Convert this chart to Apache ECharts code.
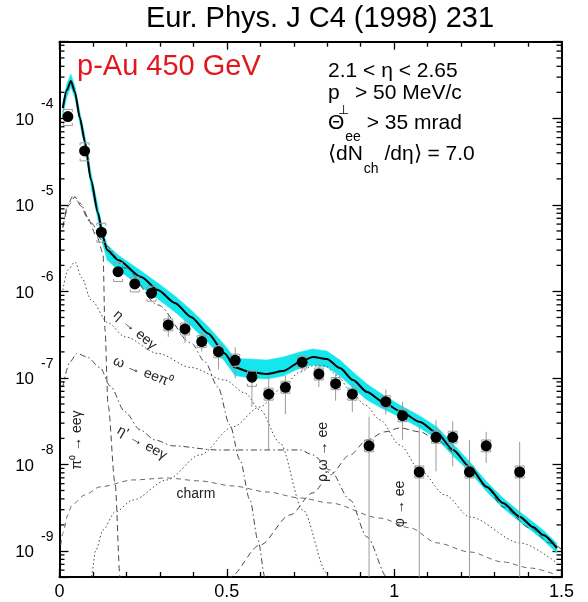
<!DOCTYPE html>
<html>
<head>
<meta charset="utf-8">
<title>p-Au 450 GeV dielectron mass spectrum</title>
<script src="https://cdn.jsdelivr.net/npm/echarts@6/dist/echarts.min.js"></script>
<style>
  html, body { margin: 0; padding: 0; background: #fff; }
  #chart { width: 588px; height: 602px; }
</style>
</head>
<body>
<div id="chart"></div>
<script>
// ---- Total expected yield (solid line) and its systematic band ----
const totalX = [0.010,0.022,0.034,0.046,0.061,0.076,0.094,0.115,0.130,0.142,0.175,0.244,0.294,0.345,0.393,0.444,0.494,0.524,0.569,0.620,0.668,0.719,0.757,0.799,0.838,0.877,0.919,0.967,1.017,1.077,1.128,1.176,1.226,1.277,1.325,1.376,1.415,1.445,1.486];
const totalY = [1.32e-4,2.13e-4,2.71e-4,2.02e-4,1.01e-4,5.35e-5,1.95e-5,8.08e-6,4.27e-6,3.02e-6,2.31e-6,1.47e-6,1.04e-6,7.36e-7,5.07e-7,3.27e-7,1.92e-7,1.32e-7,1.17e-7,1.11e-7,1.20e-7,1.53e-7,1.75e-7,1.66e-7,1.30e-7,9.47e-8,6.88e-8,5.28e-8,4.15e-8,3.10e-8,2.31e-8,1.47e-8,9.35e-9,5.50e-9,3.59e-9,2.47e-9,1.89e-9,1.53e-9,1.08e-9];
const bandHi = [1.55e-4,2.50e-4,3.27e-4,2.37e-4,1.18e-4,6.28e-5,2.35e-5,9.74e-6,5.01e-6,3.45e-6,2.64e-6,1.72e-6,1.25e-6,8.87e-7,6.11e-7,3.94e-7,2.38e-7,1.68e-7,1.65e-7,1.61e-7,1.74e-7,2.00e-7,2.16e-7,2.05e-7,1.61e-7,1.17e-7,8.51e-8,6.36e-8,4.87e-8,3.64e-8,2.71e-8,1.72e-8,1.07e-8,6.28e-9,4.10e-9,2.82e-9,2.16e-9,1.75e-9,1.23e-9];
const bandLo = [1.07e-4,1.77e-4,2.31e-4,1.72e-4,8.6e-5,4.56e-5,1.62e-5,6.71e-6,3.45e-6,2.31e-6,1.77e-6,1.13e-6,8.18e-7,5.79e-7,3.99e-7,2.57e-7,1.55e-7,1.07e-7,9.97e-8,9.72e-8,1.05e-7,1.30e-7,1.41e-7,1.34e-7,1.05e-7,7.66e-8,5.56e-8,4.38e-8,3.54e-8,2.64e-8,1.97e-8,1.25e-8,8.19e-9,4.82e-9,3.14e-9,2.16e-9,1.66e-9,1.34e-9,9.46e-10];

// ---- Measured points with statistical and systematic errors ----
const ptX    = [0.025,0.075,0.125,0.175,0.225,0.275,0.325,0.375,0.425,0.475,0.525,0.575,0.625,0.675,0.725,0.775,0.825,0.875,0.925,0.975,1.025,1.075,1.125,1.175,1.225,1.275,1.375];
const ptY    = [1.05e-4,4.21e-5,4.83e-6,1.69e-6,1.22e-6,9.53e-7,4.10e-7,3.68e-7,2.63e-7,2.01e-7,1.60e-7,1.02e-7,6.49e-8,7.80e-8,1.52e-7,1.11e-7,8.59e-8,6.49e-8,1.64e-8,5.32e-8,3.66e-8,8.18e-9,2.06e-8,2.06e-8,8.18e-9,1.64e-8,8.18e-9];
const statHi = [1.14e-4,4.56e-5,5.23e-6,1.88e-6,1.39e-6,1.12e-6,5.35e-7,4.68e-7,3.43e-7,2.55e-7,2.26e-7,1.23e-7,1.04e-7,1.07e-7,1.83e-7,1.45e-7,1.12e-7,8.47e-8,3.57e-8,7.32e-8,5.31e-8,2.86e-8,3.24e-8,3.15e-8,1.92e-8,2.38e-8,1.82e-8];
const statLo = [9.7e-5,3.89e-5,4.46e-6,1.52e-6,1.07e-6,8.12e-7,2.98e-7,2.54e-7,2.02e-7,1.25e-7,9.9e-8,4.65e-8,1.47e-8,3.80e-8,1.20e-7,7.86e-8,5.46e-8,4.02e-8,1e-10,3.77e-8,1.93e-8,1e-10,8.33e-9,9.52e-9,1e-10,1.04e-8,1e-10];
const sysHi  = [1.27e-4,5.21e-5,6.14e-6,2.15e-6,1.47e-6,1.15e-6,4.81e-7,4.32e-7,3.09e-7,2.36e-7,1.88e-7,1.20e-7,7.61e-8,9.15e-8,1.78e-7,1.30e-7,1.01e-7,7.61e-8,1.92e-8,6.24e-8,4.29e-8,9.6e-9,2.42e-8,2.42e-8,9.6e-9,1.92e-8,9.6e-9];
const sysLo  = [8.26e-5,3.23e-5,3.70e-6,1.30e-6,9.86e-7,7.70e-7,3.50e-7,3.14e-7,2.24e-7,1.71e-7,1.36e-7,8.0e-8,5.53e-8,6.65e-8,1.30e-7,9.46e-8,7.32e-8,5.53e-8,1.40e-8,4.54e-8,3.12e-8,6.97e-9,1.76e-8,1.76e-8,6.97e-9,1.40e-8,6.97e-9];

// ---- Cocktail components ----
const pi0X = [0.010,0.028,0.046,0.064,0.082,0.112,0.130,0.136,0.145,0.166,0.181,0.184];
const pi0Y = [5.57e-6,1.00e-5,1.24e-5,9.74e-6,7.26e-6,4.27e-6,2.79e-6,3.59e-7,4.88e-8,6.11e-9,5.0e-10,2.7e-10];

const etaX = [0.010,0.025,0.040,0.061,0.094,0.136,0.196,0.294,0.393,0.435,0.473,0.509,0.539,0.569,0.593,0.614,0.623];
const etaY = [5.42e-6,1.00e-5,1.27e-5,1.05e-5,6.19e-6,3.45e-6,1.87e-6,6.98e-7,2.54e-7,1.53e-7,7.87e-8,2.86e-8,1.13e-8,3.89e-9,1.34e-9,5.0e-10,2.7e-10];

const omegaDalitzX = [0.010,0.025,0.046,0.067,0.094,0.145,0.196,0.294,0.393,0.494,0.554,0.599,0.659,0.727,0.799,0.808];
const omegaDalitzY = [1.04e-6,1.77e-6,2.19e-6,1.43e-6,7.98e-7,4.33e-7,2.98e-7,1.92e-7,1.32e-7,9.47e-8,6.71e-8,4.27e-8,1.77e-8,2.98e-9,5.57e-10,2.7e-10];

const etaPrimeX = [0.010,0.031,0.052,0.082,0.121,0.151,0.196,0.241,0.285,0.339,0.471,0.620,0.719,0.757,0.808,0.868,0.919,0.979,0.987];
const etaPrimeY = [7.87e-8,1.53e-7,1.92e-7,1.75e-7,1.32e-7,8.09e-8,4.05e-8,2.51e-8,1.92e-8,1.64e-8,1.47e-8,1.47e-8,1.47e-8,1.29e-8,8.63e-9,3.89e-9,1.45e-9,5.0e-10,2.7e-10];

const rhoOmegaX = [0.088,0.094,0.109,0.130,0.166,0.220,0.321,0.420,0.518,0.599,0.659,0.719,0.757,0.793,0.829,0.868,0.913,0.958,1.017,1.077,1.152,1.226,1.376,1.486];
const rhoOmegaY = [2.7e-10,5.0e-10,1.03e-9,1.75e-9,2.82e-9,3.89e-9,6.62e-9,1.29e-8,2.72e-8,4.62e-8,7.26e-8,1.17e-7,1.38e-7,1.38e-7,1.08e-7,7.26e-8,4.88e-8,3.27e-8,1.68e-8,8.63e-9,4.44e-9,2.47e-9,1.24e-9,7.26e-10];

const phiX = [0.503,0.509,0.599,0.689,0.757,0.808,0.868,0.919,0.972,1.017,1.077,1.128,1.182,1.226,1.277,1.325,1.406,1.465,1.510];
const phiY = [2.7e-10,5.0e-10,1.17e-9,2.61e-9,4.69e-9,7.57e-9,1.29e-8,1.92e-8,2.38e-8,2.64e-8,2.38e-8,1.92e-8,1.36e-8,9.12e-9,5.35e-9,3.23e-9,1.85e-9,1.24e-9,9.73e-10];

const charmX = [0.004,0.010,0.025,0.037,0.076,0.121,0.220,0.321,0.420,0.518,0.620,0.719,0.808,0.958,1.047,1.128,1.226,1.325,1.406,1.486];
const charmY = [1.17e-9,1.61e-9,2.61e-9,3.40e-9,4.44e-9,5.50e-9,6.62e-9,6.98e-9,6.44e-9,5.64e-9,4.81e-9,4.10e-9,3.59e-9,2.40e-9,1.85e-9,1.24e-9,9.73e-10,7.46e-10,6.35e-10,5.28e-10];

// ---- Axis ranges and log-decade minor tick mantissas ----
const xMin = 0, xMax = 1.5, xStep = 0.5;
const yMin = 5e-10, yMax = 7.7e-4;
const minorMantissas = [2, 3, 4, 5, 6, 7, 8, 9];
const decadeExponents = [-10, -9, -8, -7, -6, -5, -4];

const FONT = '"Liberation Sans", Arial, Helvetica, sans-serif';

const pairs = (xs, ys) => xs.map((x, i) => [x, ys[i]]);

const minorTicks = [];
decadeExponents.forEach(e => minorMantissas.forEach(m => {
  const v = m * Math.pow(10, e);
  if (v > yMin && v < yMax) minorTicks.push([xMin, v]);
}));

const chart = echarts.init(document.getElementById('chart'), null, { renderer: 'canvas' });

function component(name, xs, ys, dash, color) {
  return {
    name, type: 'line', data: pairs(xs, ys), showSymbol: false, symbol: 'none',
    smooth: 0.3, smoothMonotone: 'x', clip: true, z: 3, silent: true,
    lineStyle: { color: color || '#474747', width: 1, type: dash }
  };
}

function frameAxis(extra) {
  return Object.assign({
    axisLine: { show: true, onZero: false, lineStyle: { color: '#000', width: 2 } },
    axisTick: { show: true, inside: true, length: 9, lineStyle: { color: '#000', width: 1.3 } },
    splitLine: { show: false }
  }, extra);
}

function label(text, x, y, rotation) {
  return { type: 'text', x, y, rotation: rotation || 0, silent: true,
           style: { text, font: '14px ' + FONT, fill: '#222', align: 'center', verticalAlign: 'middle',
                    textAlign: 'center', textVerticalAlign: 'middle' } };
}

function plain(text, x, y, size, color, family) {
  return { type: 'text', x, y, silent: true,
           style: { text, font: size + 'px ' + (family || FONT), fill: color || '#000', align: 'left',
                    verticalAlign: 'middle', textAlign: 'left', textVerticalAlign: 'middle' } };
}

function withSub(main, sub, tail, x, y, pad) {
  return { type: 'text', x, y, silent: true,
           style: { text: '{m|' + main + '}{s|' + sub + '}{m|' + tail + '}', align: 'left', verticalAlign: 'middle',
                    rich: { m: { fontSize: 21, fontFamily: FONT, fill: '#000', verticalAlign: 'middle' },
                            s: { fontSize: 14, fontFamily: FONT, fill: '#000', verticalAlign: 'middle', padding: [pad, 0, 0, 1] } } } };
}

const option = {
  animation: false,
  backgroundColor: '#fff',
  grid: { left: 59.5, right: 26.5, top: 41.7, bottom: 25 },
  xAxis: [
    frameAxis({
      type: 'value', position: 'bottom', min: xMin, max: xMax, interval: xStep,
      axisTick: { show: true, inside: true, length: 8, lineStyle: { color: '#000', width: 1.3 } },
      minorTick: { show: true, splitNumber: 5, length: 5, lineStyle: { color: '#000', width: 1.3 } },
      axisLabel: { fontSize: 18, fontFamily: FONT, color: '#000', margin: 6,
                   formatter: v => String(+v.toFixed(1)) }
    }),
    frameAxis({
      type: 'value', position: 'top', min: xMin, max: xMax, interval: xStep,
      axisTick: { show: true, inside: true, length: 8, lineStyle: { color: '#000', width: 1.3 } },
      minorTick: { show: true, splitNumber: 5, length: 5, lineStyle: { color: '#000', width: 1.3 } },
      axisLabel: { show: false }
    })
  ],
  yAxis: [
    frameAxis({
      type: 'log', logBase: 10, position: 'left', min: yMin, max: yMax,
      axisLabel: {
        margin: 6,
        formatter: v => {
          const e = Math.log10(v);
          const r = Math.round(e);
          if (Math.abs(e - r) > 1e-6) return '';
          return '{b|10}{e|' + r + '}';
        },
        rich: {
          b: { fontSize: 17, fontFamily: FONT, color: '#000', verticalAlign: 'middle', padding: [3, 0, 0, 0] },
          e: { fontSize: 14, fontFamily: FONT, color: '#000', verticalAlign: 'middle', padding: [0, 0, 28, 7] }
        }
      }
    }),
    frameAxis({
      type: 'log', logBase: 10, position: 'right', min: yMin, max: yMax,
      axisLabel: { show: false }
    })
  ],
  series: [
    // systematic band around the total yield
    {
      type: 'custom', name: 'band', clip: true, z: 1, silent: true,
      data: [[totalX[0], totalY[0]]],
      encode: { x: 0, y: 1 },
      renderItem: (params, api) => {
        const upper = totalX.map((x, i) => api.coord([x, bandHi[i]]));
        const lower = totalX.map((x, i) => api.coord([x, bandLo[i]])).reverse();
        return { type: 'polygon', shape: { points: upper.concat(lower) },
                 style: { fill: '#14e6ee', stroke: '#14e6ee', lineWidth: 0.5 } };
      }
    },
    component('pi0', pi0X, pi0Y, [6, 4]),
    component('eta', etaX, etaY, [6, 3, 1.5, 3]),
    component('omegaDalitz', omegaDalitzX, omegaDalitzY, [1.5, 2.5]),
    component('etaPrime', etaPrimeX, etaPrimeY, [6, 3, 1.5, 3]),
    component('rhoOmega', rhoOmegaX, rhoOmegaY, [1.5, 2.5]),
    component('phi', phiX, phiY, [6, 4]),
    component('charm', charmX, charmY, [5, 4], '#6a6a6a'),
    // total yield
    {
      name: 'total', type: 'line', data: pairs(totalX, totalY), showSymbol: false, symbol: 'none',
      smooth: 0.25, smoothMonotone: 'x', clip: true, z: 4, silent: true,
      lineStyle: { color: '#000', width: 2 }
    },
    // error bars: vertical stat line, bracket-shaped systematic caps
    {
      type: 'custom', name: 'errors', clip: true, z: 5, silent: true,
      data: ptX.map((x, i) => [x, statLo[i], statHi[i], sysLo[i], sysHi[i]]),
      encode: { x: 0, y: [1, 2, 3, 4] },
      renderItem: (params, api) => {
        const x = api.value(0);
        const a = api.coord([x, api.value(1)]);
        const b = api.coord([x, api.value(2)]);
        const sl = api.coord([x, api.value(3)]);
        const sh = api.coord([x, api.value(4)]);
        const w = 4.5, h = 2.5;
        const st = { stroke: '#9a9a9a', lineWidth: 1, fill: null };
        return {
          type: 'group',
          children: [
            { type: 'line', shape: { x1: a[0], y1: a[1], x2: b[0], y2: b[1] }, style: st },
            { type: 'polyline', shape: { points: [[sh[0] - w, sh[1] + h], [sh[0] - w, sh[1]], [sh[0] + w, sh[1]], [sh[0] + w, sh[1] + h]] }, style: st },
            { type: 'polyline', shape: { points: [[sl[0] - w, sl[1] - h], [sl[0] - w, sl[1]], [sl[0] + w, sl[1]], [sl[0] + w, sl[1] - h]] }, style: st }
          ]
        };
      }
    },
    {
      name: 'data', type: 'scatter', data: pairs(ptX, ptY), symbol: 'circle', symbolSize: 11,
      itemStyle: { color: '#000', opacity: 1, borderWidth: 0 }, z: 6, silent: true
    },
    // logarithmic minor ticks on the left and right frame edges
    {
      type: 'custom', name: 'minorTicks', clip: false, z: 7, silent: true,
      data: minorTicks,
      encode: { x: 0, y: 1 },
      renderItem: (params, api) => {
        const y = api.coord([xMin, api.value(1)])[1];
        const left = params.coordSys.x;
        const right = params.coordSys.x + params.coordSys.width;
        const st = { stroke: '#000', lineWidth: 1.3 };
        return {
          type: 'group',
          children: [
            { type: 'line', shape: { x1: left, y1: y, x2: left + 5, y2: y }, style: st },
            { type: 'line', shape: { x1: right - 5, y1: y, x2: right, y2: y }, style: st }
          ]
        };
      }
    }
  ],
  graphic: [
    { type: 'text', x: 320, y: 19, silent: true,
      style: { text: 'Eur. Phys. J C4 (1998) 231', font: '29px ' + FONT, fill: '#000',
               align: 'center', verticalAlign: 'middle', textAlign: 'center', textVerticalAlign: 'middle' } },
    plain('p-Au 450 GeV', 77, 67, 29, '#e3171b'),
    plain('2.1 < η < 2.65', 328, 71, 21),
    plain('p', 328, 93, 21),
    plain('⊥', 338, 111, 13, '#000', '"DejaVu Sans", sans-serif'),
    plain('> 50 MeV/c', 355, 93, 21),
    withSub('Θ', 'ee', ' > 35 mrad', 328, 123, 28),
    withSub('⟨dN', 'ch', ' /dη⟩ = 7.0', 328, 154, 30),
    // component labels
    label('η → eeγ', 135, 330, -0.72),
    label('ω → eeπ⁰', 143, 372, -0.38),
    label("η' → eeγ", 142, 443, -0.52),
    label('π⁰ → eeγ', 77, 440, Math.PI / 2),
    label('charm', 196, 494),
    label('ρ,ω → ee', 323, 452, Math.PI / 2),
    label('φ → ee', 400, 504, Math.PI / 2)
  ]
};

chart.setOption(option);
</script>
</body>
</html>
